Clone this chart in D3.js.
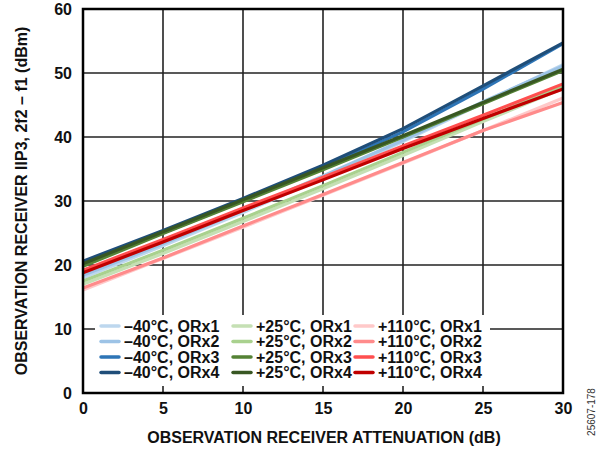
<!DOCTYPE html>
<html><head><meta charset="utf-8">
<script src="https://cdn.jsdelivr.net/npm/d3@7/dist/d3.min.js"></script>
<style>body{margin:0;background:#fff}svg{display:block;font-family:"Liberation Sans",Arial,sans-serif}</style>
</head><body><svg id="c" width="600" height="450"></svg>
<script>
const attenuation = [0, 5, 10, 15, 20, 25, 30];
const seriesNames = ["\u201340\u00b0C, ORx1","\u201340\u00b0C, ORx2","\u201340\u00b0C, ORx3","\u201340\u00b0C, ORx4",
  "+25\u00b0C, ORx1","+25\u00b0C, ORx2","+25\u00b0C, ORx3","+25\u00b0C, ORx4",
  "+110\u00b0C, ORx1","+110\u00b0C, ORx2","+110\u00b0C, ORx3","+110\u00b0C, ORx4"];
const seriesColors = ["#bdd7ee","#9dc3e6","#2e75b6","#1f4e79",
  "#c5e0b4","#a9d18e","#548235","#385723",
  "#ffc9c9","#ff8b8b","#ff4f4f","#c00000"];
const m40_orx1 = [18.0, 23.0, 28.2, 33.6, 39.3, 45.3, 51.3];
const m40_orx2 = [18.4, 23.3, 28.5, 33.9, 39.5, 45.5, 51.1];
const m40_orx3 = [20.1, 25.0, 30.0, 35.2, 40.8, 47.5, 54.6];
const m40_orx4 = [20.6, 25.4, 30.4, 35.6, 41.3, 48.0, 54.7];
const p25_orx1 = [17.0, 21.8, 26.8, 31.9, 37.1, 42.4, 47.6];
const p25_orx2 = [17.5, 22.3, 27.3, 32.4, 37.6, 42.8, 48.0];
const p25_orx3 = [19.8, 24.9, 29.9, 34.9, 40.0, 45.2, 50.4];
const p25_orx4 = [20.2, 25.2, 30.2, 35.2, 40.2, 45.4, 50.6];
const p110_orx1 = [16.1, 21.0, 25.9, 30.9, 35.9, 41.0, 46.1];
const p110_orx2 = [16.4, 21.1, 26.1, 31.0, 36.0, 41.0, 45.4];
const p110_orx3 = [19.2, 24.0, 28.9, 33.7, 38.6, 43.4, 48.3];
const p110_orx4 = [18.8, 23.6, 28.5, 33.3, 38.2, 42.9, 47.5];
const seriesValues = [m40_orx1,m40_orx2,m40_orx3,m40_orx4,p25_orx1,p25_orx2,p25_orx3,p25_orx4,p110_orx1,p110_orx2,p110_orx3,p110_orx4];
const xTicks = [0,5,10,15,20,25,30];
const yTicks = [0,10,20,30,40,50,60];
const xTitle = "OBSERVATION RECEIVER ATTENUATION (dB)";
const yTitle = "OBSERVATION RECEIVER IIP3, 2f2 \u2013 f1 (dBm)";
const figId = "25607-178";

const svg = d3.select("#c");
const L=83, R=563, T=9, B=393;
const FS = 16;
const x = d3.scaleLinear().domain([0,30]).range([L,R]);
const y = d3.scaleLinear().domain([0,60]).range([B,T]);

// grid
const g = svg.append("g");
g.selectAll(".vx").data(xTicks.slice(1,-1)).join("line")
  .attr("x1",d=>x(d)).attr("x2",d=>x(d)).attr("y1",T).attr("y2",B)
  .attr("stroke","#222").attr("stroke-width",1.6);
g.selectAll(".hy").data(yTicks.slice(1,-1)).join("line")
  .attr("y1",d=>y(d)).attr("y2",d=>y(d)).attr("x1",L).attr("x2",R)
  .attr("stroke","#222").attr("stroke-width",1.6);

// lines
const line = d3.line().x((d,i)=>x(attenuation[i])).y(d=>y(d));
svg.append("g").selectAll("path").data(seriesValues).join("path")
  .attr("d",d=>line(d)).attr("fill","none")
  .attr("stroke",(d,i)=>seriesColors[i]).attr("stroke-width",3.2);

// legend
const lg = svg.append("g");
lg.append("rect").attr("x",95).attr("y",315).attr("width",395).attr("height",71).attr("fill","#fff");
const colX = [101, 233, 355];
seriesNames.forEach((n,i)=>{
  const c = Math.floor(i/4), r = i%4;
  const yy = 326 + r*15.5;
  lg.append("line").attr("x1",colX[c]).attr("x2",colX[c]+18).attr("y1",yy).attr("y2",yy)
    .attr("stroke",seriesColors[i]).attr("stroke-width",3.5).attr("stroke-linecap","round");
  lg.append("text").attr("x",colX[c]+23).attr("y",yy).attr("dy","0.36em")
    .attr("font-size",FS).attr("font-weight","bold").attr("fill","#111").text(n);
});

// frame
svg.append("rect").attr("x",L).attr("y",T).attr("width",R-L).attr("height",B-T)
  .attr("fill","none").attr("stroke","#000").attr("stroke-width",2.5);

// axes
const xa = svg.append("g").attr("transform",`translate(0,${B})`)
  .call(d3.axisBottom(x).tickValues(xTicks).tickSize(0).tickPadding(10).tickFormat(d3.format("d")));
const ya = svg.append("g").attr("transform",`translate(${L},0)`)
  .call(d3.axisLeft(y).tickValues(yTicks).tickSize(0).tickPadding(11).tickFormat(d3.format("d")));
[xa,ya].forEach(a=>{a.select(".domain").remove();
  a.selectAll("text").attr("font-size",FS).attr("font-weight","bold").attr("fill","#111")
   .attr("font-family","Liberation Sans, Arial, sans-serif");});

svg.append("text").attr("x",(L+R)/2+1).attr("y",437).attr("dy","0.36em").attr("text-anchor","middle")
  .attr("font-size",FS).attr("font-weight","bold").attr("fill","#111").text(xTitle);
svg.append("text").attr("transform",`translate(21,${(T+B)/2}) rotate(-90)`).attr("dy","0.36em").attr("text-anchor","middle")
  .attr("font-size",FS).attr("font-weight","bold").attr("fill","#111").text(yTitle);
svg.append("text").attr("transform",`translate(591,412) rotate(-90)`).attr("dy","0.36em").attr("text-anchor","middle")
  .attr("font-size",10).attr("fill","#333").text(figId);
</script></body></html>
